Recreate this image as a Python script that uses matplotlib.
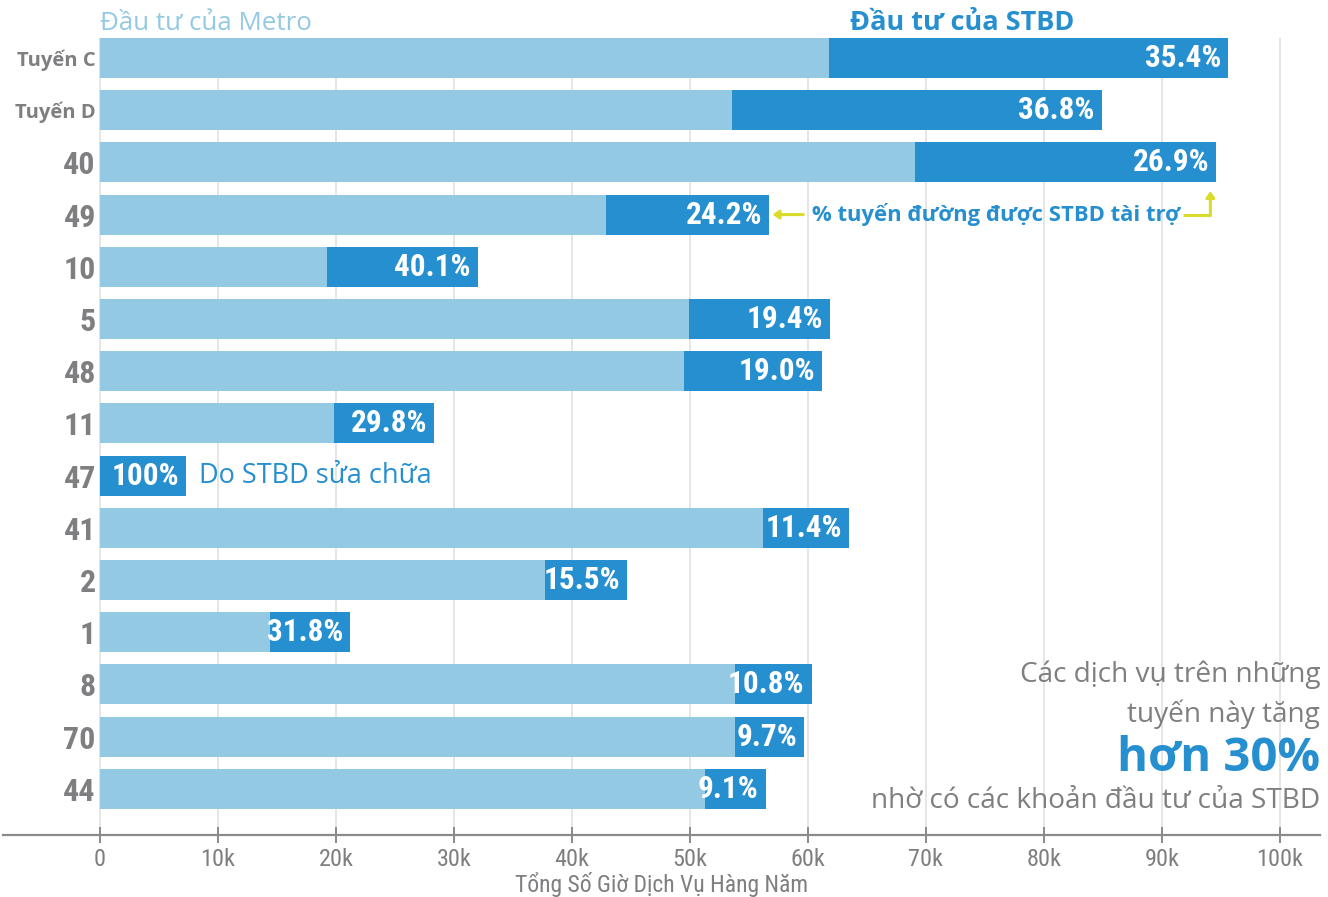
import matplotlib
matplotlib.use("Agg")
import matplotlib.pyplot as plt
from matplotlib.font_manager import FontProperties, fontManager

# ---- data (thousand annual service hours) ----
categories = ["Tuyến C", "Tuyến D", "40", "49", "10", "5", "48", "11", "47",
              "41", "2", "1", "8", "70", "44"]
metro_hours = [61.8, 53.6, 69.1, 42.9, 19.2, 49.9, 49.5, 19.8, 0.0,
               56.2, 37.7, 14.4, 53.8, 53.8, 51.3]
stbd_hours = [33.8, 31.3, 25.5, 13.8, 12.8, 12.0, 11.7, 8.5, 7.3,
              7.3, 7.0, 6.8, 6.5, 5.9, 5.1]
pct_labels = ["35.4%", "36.8%", "26.9%", "24.2%", "40.1%", "19.4%", "19.0%",
              "29.8%", "100%", "11.4%", "15.5%", "31.8%", "10.8%", "9.7%", "9.1%"]
x_ticks = [0, 10, 20, 30, 40, 50, 60, 70, 80, 90, 100]
x_ticklabels = ["0", "10k", "20k", "30k", "40k", "50k", "60k", "70k", "80k", "90k", "100k"]

LIGHT = "#93c9e3"
DARK = "#268fd0"
GRAY = "#7f7f82"
YELLOW = "#d9dc2a"
TEXT_FONT = "Open Sans"

# pick a condensed family if one is installed
names = {f.name for f in fontManager.ttflist}
COND = None
for cand in ["Roboto Condensed", "DejaVu Sans Condensed", "Liberation Sans Narrow",
             "Open Sans Condensed"]:
    if cand in names:
        COND = cand
        break
if COND is None:
    for f in fontManager.ttflist:
        if "condensed" in str(f.stretch).lower() or "narrow" in f.name.lower():
            COND = f.name
            break
if COND is None:
    COND = "DejaVu Sans"


def cfont(size, weight="normal"):
    return FontProperties(family=COND, weight=weight, stretch="condensed", size=size)


fig = plt.figure(figsize=(13.28, 8.97), dpi=100)
W, H = 1328, 897
ax = fig.add_axes([3 / W, (H - 835) / H, (1320 - 3) / W, (835 - 38) / H])

y = list(range(len(categories)))
bar_h = 0.766
ax.barh(y, metro_hours, height=bar_h, color=LIGHT, zorder=2)
ax.barh(y, stbd_hours, left=metro_hours, height=bar_h, color=DARK, zorder=2)

for i, (m, s, lab) in enumerate(zip(metro_hours, stbd_hours, pct_labels)):
    ax.annotate(lab, xy=(m + s, i), xytext=(-5, 0), textcoords="offset points",
                ha="right", va="center", color="white",
                fontproperties=cfont(22.5, "bold"), zorder=4)

ax.set_xlim(-8.22, 103.39)
ax.set_ylim(14.885, -0.383)

# axis styling
for sp in ("top", "right"):
    ax.spines[sp].set_visible(False)
ax.spines["left"].set_position(("data", 0))
ax.spines["left"].set_visible(False)
ax.spines["bottom"].set_color("#8a8a8c")
ax.spines["bottom"].set_linewidth(1.6)

ax.set_xticks(x_ticks)
ax.set_xticklabels(x_ticklabels)
ax.tick_params(axis="x", direction="inout", length=12, width=1.4, color="#8a8a8c",
               pad=3, labelcolor=GRAY)
for t in ax.get_xticklabels():
    t.set_fontproperties(cfont(17.5))

ax.set_yticks(y)
ax.set_yticklabels(categories)
ax.tick_params(axis="y", length=0, pad=3, labelcolor=GRAY)
for t in ax.get_yticklabels():
    if t.get_text().startswith("Tuyến"):
        t.set_fontproperties(FontProperties(family=TEXT_FONT, weight="bold", size=14.5))
    else:
        t.set_fontproperties(cfont(23, "bold"))

ax.grid(axis="x", color="#e2e2e2", linewidth=1.2, zorder=0)
ax.set_axisbelow(True)

ax.set_xlabel("Tổng Số Giờ Dịch Vụ Hàng Năm", fontproperties=cfont(17), color=GRAY,
              labelpad=1)

# headers
fig.text(100 / W, 1 - 24 / H, "Đầu tư của Metro", family=TEXT_FONT, size=18.6,
         color=LIGHT, ha="left", va="center")
fig.text(962 / W, 1 - 23 / H, "Đầu tư của STBD", family=TEXT_FONT, size=19.5,
         weight="bold", color=DARK, ha="center", va="center")

# annotation for row "49"
ax.annotate("", xy=(57.0, 3), xytext=(59.6, 3),
            arrowprops=dict(arrowstyle="-|>,head_length=0.35,head_width=0.25",
                            color=YELLOW, lw=2.2, shrinkA=0, shrinkB=0))
ax.text(60.3, 3, "% tuyến đường được STBD tài trợ", family=TEXT_FONT, size=15.8,
        weight="bold", color=DARK, ha="left", va="center")
ax.plot([91.8, 94.1], [3, 3], color=YELLOW, lw=2.2, solid_capstyle="butt", zorder=3)
ax.annotate("", xy=(94.1, 2.55), xytext=(94.1, 3.02),
            arrowprops=dict(arrowstyle="-|>,head_length=0.35,head_width=0.25",
                            color=YELLOW, lw=2.2, shrinkA=0, shrinkB=0))

# row 47 note
ax.text(8.4, 8, "Do STBD sửa chữa", family=TEXT_FONT, size=19.5, color=DARK,
        ha="left", va="center")

# bottom-right message
rx = 1320 / W
fig.text(rx, 1 - 675 / H, "Các dịch vụ trên những", family=TEXT_FONT, size=20.2,
         color=GRAY, ha="right", va="center")
fig.text(rx, 1 - 714 / H, "tuyến này tăng", family=TEXT_FONT, size=20.2,
         color=GRAY, ha="right", va="center")
fig.text(rx, 1 - 758 / H, "hơn 30%", family=TEXT_FONT, size=34, weight="bold",
         color=DARK, ha="right", va="center")
fig.text(rx, 1 - 801 / H, "nhờ có các khoản đầu tư của STBD", family=TEXT_FONT,
         size=20.2, color=GRAY, ha="right", va="center")

fig.savefig("out.png", dpi=100)
